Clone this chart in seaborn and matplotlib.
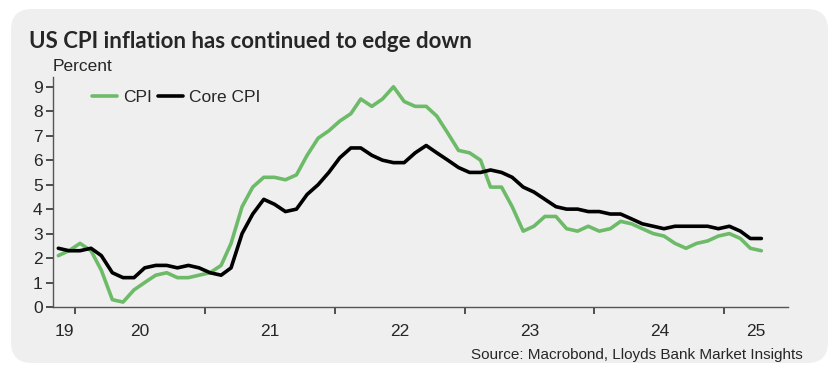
import numpy as np
import pandas as pd
import seaborn as sns
from matplotlib import pyplot as plt
from matplotlib.patches import FancyBboxPatch

# monthly yoy %, Nov 2019 - Apr 2025
cpi = [2.1, 2.3, 2.6, 2.3, 1.5, 0.3, 0.2, 0.7, 1.0, 1.3, 1.4, 1.2, 1.2, 1.3, 1.4, 1.7, 2.6,
       4.1, 4.9, 5.3, 5.3, 5.2, 5.4, 6.2, 6.9, 7.2, 7.6, 7.9, 8.5, 8.2, 8.5, 9.0, 8.4, 8.2,
       8.2, 7.8, 7.1, 6.4, 6.3, 6.0, 4.9, 4.9, 4.1, 3.1, 3.3, 3.7, 3.7, 3.2, 3.1, 3.3, 3.1,
       3.2, 3.5, 3.4, 3.2, 3.0, 2.9, 2.6, 2.4, 2.6, 2.7, 2.9, 3.0, 2.8, 2.4, 2.3]
core_cpi = [2.4, 2.3, 2.3, 2.4, 2.1, 1.4, 1.2, 1.2, 1.6, 1.7, 1.7, 1.6, 1.7, 1.6, 1.4, 1.3, 1.6,
            3.0, 3.8, 4.4, 4.2, 3.9, 4.0, 4.6, 5.0, 5.5, 6.1, 6.5, 6.5, 6.2, 6.0, 5.9, 5.9, 6.3,
            6.6, 6.3, 6.0, 5.7, 5.5, 5.5, 5.6, 5.5, 5.3, 4.9, 4.7, 4.4, 4.1, 4.0, 4.0, 3.9, 3.9,
            3.8, 3.8, 3.6, 3.4, 3.3, 3.2, 3.3, 3.3, 3.3, 3.3, 3.2, 3.3, 3.1, 2.8, 2.8]
years = [2019, 2020, 2021, 2022, 2023, 2024, 2025]
year_labels = ['19', '20', '21', '22', '23', '24', '25']
yticks = list(range(0, 10))

dates = pd.date_range('2019-11-01', periods=len(cpi), freq='MS') + pd.Timedelta(days=14)
df = pd.DataFrame({'date': dates, 'CPI': cpi, 'Core CPI': core_cpi})

sns.set_style('ticks')
plt.rcParams['font.family'] = ['Liberation Sans', 'DejaVu Sans']

green = '#6dbb69'
fig = plt.figure(figsize=(8.36, 3.72), dpi=100, facecolor='white')

# rounded grey panel behind everything
panel = FancyBboxPatch((11 / 836, 1 - 363 / 372), 817 / 836, 354 / 372,
                       boxstyle='round,pad=0,rounding_size=0.025',
                       transform=fig.transFigure, facecolor='#efefef', edgecolor='none',
                       mutation_aspect=836 / 372, zorder=-10)
fig.patches.append(panel)

ax = fig.add_axes([53 / 836, 1 - 307 / 372, 735 / 836, 230 / 372])
ax.set_facecolor('none')

sns.lineplot(data=df, x='date', y='CPI', ax=ax, color=green, linewidth=2.6, label='CPI')
sns.lineplot(data=df, x='date', y='Core CPI', ax=ax, color='black', linewidth=2.6, label='Core CPI')

x0 = pd.Timestamp('2019-10-31')
x1 = pd.Timestamp('2025-06-29')
ax.set_xlim(x0, x1)
ax.set_ylim(0, 9.4)
ax.set_yticks(yticks)
ax.set_xlabel('')
ax.set_ylabel('')

# year boundaries as ticks, labels centred on visible part of each year
ax.set_xticks([pd.Timestamp(f'{y}-01-01') for y in years[1:]])
ax.set_xticklabels([])
mids = []
for y in years:
    a = max(pd.Timestamp(f'{y}-01-01'), x0)
    b = min(pd.Timestamp(f'{y + 1}-01-01'), x1)
    mids.append(a + (b - a) / 2)
ax.set_xticks(mids, minor=True)
ax.set_xticklabels(year_labels, minor=True)
ax.tick_params(axis='x', which='major', direction='out', length=5, width=1.2, color='#333333')
ax.tick_params(axis='x', which='minor', length=0, pad=12, labelsize=12.5)
ax.tick_params(axis='y', direction='out', length=5, width=1.2, color='#333333', labelsize=12.5, pad=2.5)

for s in ['top', 'right']:
    ax.spines[s].set_visible(False)
for s in ['left', 'bottom']:
    ax.spines[s].set_color('#555555')
    ax.spines[s].set_linewidth(1.0)

ax.legend(loc='upper left', bbox_to_anchor=(39 / 735, (307 - 90) / 230), ncol=2, frameon=False,
          fontsize=12.5, handlelength=1.45, handletextpad=0.35, columnspacing=0.35,
          borderpad=0, borderaxespad=0)

fig.text(29 / 836, 1 - 48 / 372, 'US CPI inflation has continued to edge down',
         fontsize=16, fontweight='bold', family=['Lato', 'DejaVu Sans'], va='baseline')
fig.text(53 / 836, 1 - 71 / 372, 'Percent', fontsize=12.5, va='baseline')
fig.text(803 / 836, 1 - 359 / 372, 'Source: Macrobond, Lloyds Bank Market Insights',
         fontsize=11, ha='right', va='baseline')

fig.savefig('out.png', dpi=100, facecolor='white')
